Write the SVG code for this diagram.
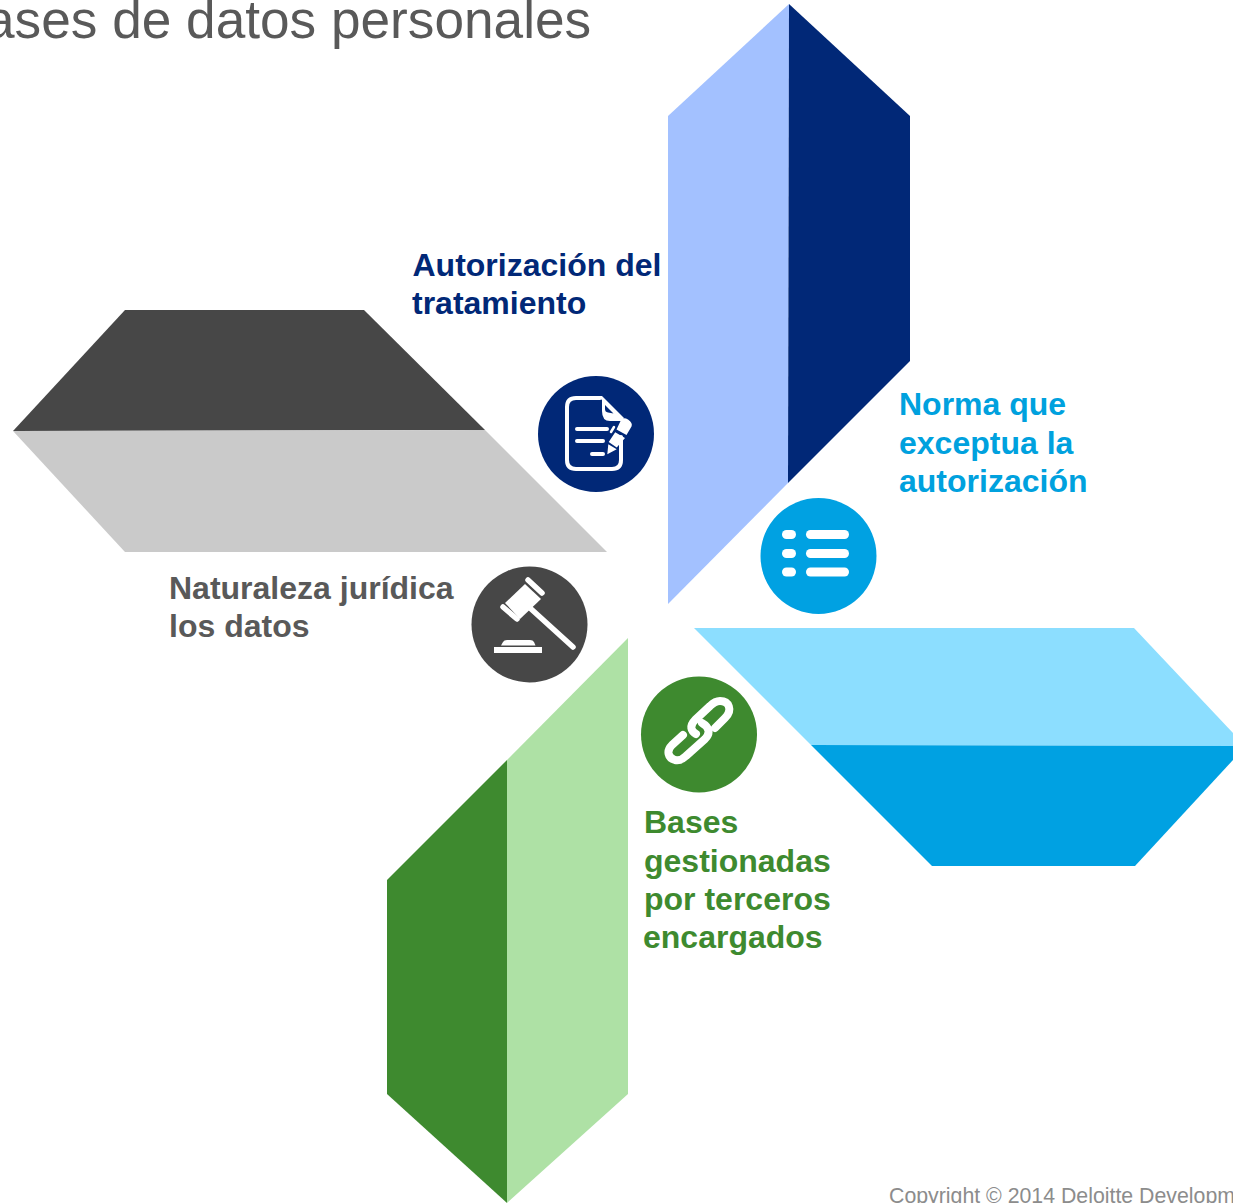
<svg xmlns="http://www.w3.org/2000/svg" width="1233" height="1203" viewBox="0 0 1233 1203">
<style>
text{font-family:"Liberation Sans",Arial,sans-serif}
.l{font-size:32px;font-weight:700}
.w{fill:#fff}
.s{fill:none;stroke:#fff;stroke-linecap:round;stroke-linejoin:round}
</style>
<rect width="1233" height="1203" fill="#fff"/>
<text id="title" x="-15" y="38" font-size="53.200" fill="#595959">ases de datos personales</text>
<g id="petal-top"><polygon points="668,116 789,4 788,483 668,604" fill="#A3C1FF"/><polygon points="789,4 910,116 910,361 788,483" fill="#012877"/></g>
<g id="petal-left"><polygon points="13,431 125,310 364,310 485,430" fill="#474747"/><polygon points="13,431 485,430 607,552 125,552" fill="#CACACA"/></g>
<g id="petal-right"><polygon points="694,628 1134,628 1233,733 1233,746 811,745" fill="#8CDEFF"/><polygon points="811,745 1233,746 1233,760 1135,866 932,866" fill="#00A1E2"/></g>
<g id="petal-bottom"><polygon points="387,880 507,760 507,1203 387,1094" fill="#3E8A2F"/><polygon points="507,760 628,638 628,1094 507,1203" fill="#AEE1A5"/></g>
<g id="node-autorizacion">
<circle cx="596" cy="434" r="58" fill="#012877"/>
<path class="s" stroke-width="4" d="M621,437V460Q621,469 612,469H576Q567,469 567,460V407Q567,398 576,398H600"/>
<path class="w" fill-rule="evenodd" d="M598,396L602,396L624,418L622,421H610Q602,421 602,411V400ZM605,405L605,409Q605,412 608,412.500L613.500,413.500Z"/>
<path class="s" stroke-width="4" d="M577,429H607M577,441H603M592,454H603"/>
<path class="s" stroke-width="2.500" d="M611,432L614,427"/>
<path class="w" d="M607.300,454.300L608.300,444.300L616.700,449.300ZM615.200,432.300L625,438L616.700,447.500L608.700,442ZM616.500,429.500L621,420Q623.500,417 628,419.500Q633,423 631.500,426.500L626.500,435Z"/>
<text class="l" fill="#012877"><tspan x="412.500" y="276">Autorización del</tspan><tspan x="412" y="314">tratamiento</tspan></text>
</g>
<g id="node-naturaleza">
<circle cx="529.500" cy="624.500" r="58" fill="#474747"/>
<path class="s" stroke-width="5.500" d="M528,580L542,593M503,607L517,619M530,608L573,647"/>
<polygon class="w" points="525,584 541,599 520,619 505,603"/>
<rect class="w" x="494" y="647" width="48" height="6"/>
<path class="w" d="M501,645.500L503,642Q504,640 507,640H530Q533,640 534,642L535.500,645.500Z"/>
<text class="l" fill="#595959"><tspan x="169" y="599">Naturaleza jurídica</tspan><tspan x="169" y="637">los datos</tspan></text>
</g>
<g id="node-bases">
<circle cx="699" cy="734.500" r="58" fill="#3E8A2F"/>
<path class="s" stroke-width="8" d="M715,728L725,718C733,710 729,701 720,701C716,701 713,703 710,706L695,720C689,726 691,731 696,734"/>
<path class="s" stroke-width="8" d="M683,735L672,745C666,751 668,758 675,760C680,761 683,759 686,756L705,739C711,733 709,727 702,723"/>
<text class="l" fill="#3E8A2F"><tspan x="644" y="833">Bases</tspan><tspan x="644" y="872">gestionadas</tspan><tspan x="644" y="910">por terceros</tspan><tspan x="643" y="948">encargados</tspan></text>
</g>
<g id="node-norma">
<circle cx="818.500" cy="556" r="58" fill="#00A1E2"/>
<g class="w">
<rect x="782" y="530" width="14" height="9" rx="4.500"/><rect x="806" y="530" width="43" height="9" rx="4.500"/>
<rect x="782" y="549" width="14" height="9" rx="4.500"/><rect x="806" y="549" width="43" height="9" rx="4.500"/>
<rect x="782" y="567.500" width="14" height="9" rx="4.500"/><rect x="806" y="567.500" width="43" height="9" rx="4.500"/>
</g>
<text class="l" fill="#00A1DE"><tspan x="899" y="415">Norma que</tspan><tspan x="899" y="454">exceptua la</tspan><tspan x="899" y="492">autorización</tspan></text>
</g>
<text id="copyright" x="889" y="1203" font-size="21.300" fill="#8C8C8C">Copyright © 2014 Deloitte Developm</text>
</svg>
